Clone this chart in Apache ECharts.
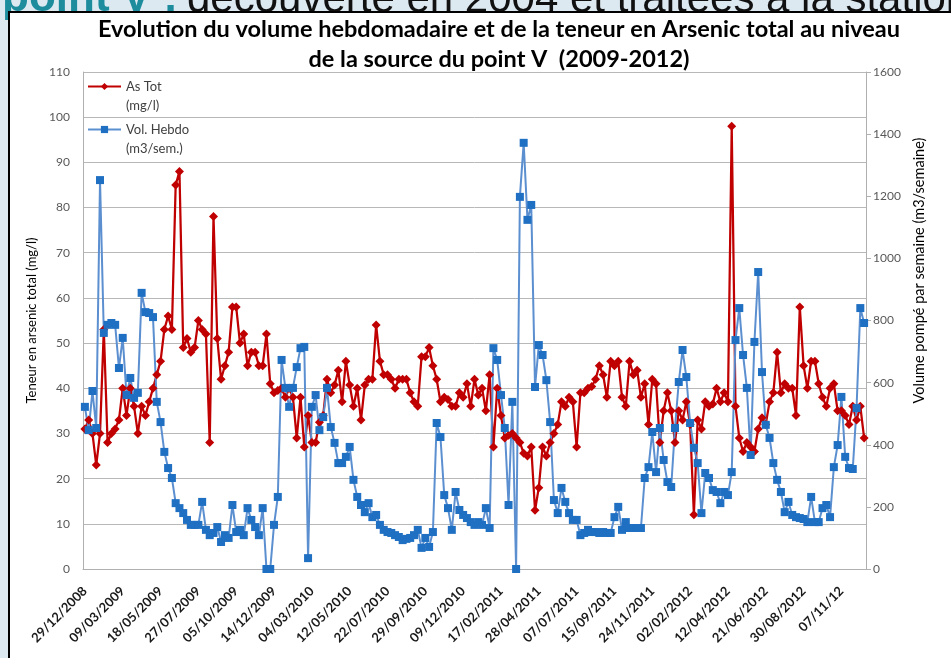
<!DOCTYPE html>
<html>
<head>
<meta charset="utf-8">
<script src="https://cdn.jsdelivr.net/npm/echarts@6/dist/echarts.min.js"></script>
<style>
html, body { margin: 0; padding: 0; background: #dde9f1; }
#chart { width: 951px; height: 658px; }
</style>
</head>
<body>
<div id="chart"></div>
<script>
// étiquettes de l'axe des dates (une toutes les 10 semaines)
const tickLabels = ['29/12/2008', '09/03/2009', '18/05/2009', '27/07/2009', '05/10/2009', '14/12/2009',
  '04/03/2010', '12/05/2010', '22/07/2010', '29/09/2010', '09/12/2010', '17/02/2011', '28/04/2011',
  '07/07/2011', '15/09/2011', '24/11/2011', '02/02/2012', '12/04/2012', '21/06/2012', '30/08/2012', '07/11/12'];

// teneur en As total (mg/l)
const asTot = [
  31, 33, 30, 23, 30, 53, 28, 30, 31, 33, 40, 34, 40, 36, 30, 36, 34, 37, 40, 43, 46, 53, 56, 53, 85, 88, 49, 51, 48, 49, 55, 53, 52, 28,
  78, 51, 42, 45, 48, 58, 58, 50, 52, 45, 48, 48, 45, 45, 52, 41, 39, 39.5, 40, 38, 40, 38, 29, 38, 27, 34, 28, 28, 32.5, 34, 42, 39, 40.7, 44,
  37, 46, 40.7, 36, 40, 33, 40.7, 42, 42, 54, 46, 43, 43, 42, 40, 42, 42, 42, 39, 37, 36, 47, 47, 49, 45, 42, 37, 38, 37.5, 36, 36, 39, 38, 41, 36, 42,
  38.5, 40, 35, 43, 27, 40, 34, 29, 29.6, 30, 29, 28, 25.6, 25, 27, 13, 18, 27, 25, 28, 30, 32, 37, 36, 38, 37, 27, 39, 39, 40, 40.4, 42, 45, 43,
  38, 46, 45, 46, 38, 36, 46, 43, 44, 38, 41, 32, 42, 41, 28, 35, 39, 35, 28, 35, 33, 37, 32, 12, 33, 31, 37, 36, 36.5, 40, 37, 39, 37, 98,
  36, 29, 26, 28, 27, 26, 31, 33.5, 32, 37, 39, 48, 39, 41, 40, 40, 34, 58, 45, 40, 46, 46, 41, 38, 36, 40, 41, 35, 35, 34, 32, 36, 33, 36, 29
];

// volume hebdomadaire (m3/semaine)
const volHebdo = [
  522, 447, 573, 454, 1252, 760, 786, 792, 786, 647, 744, 560, 615, 551, 567, 889, 827, 824, 811, 538, 473, 377, 325, 293, 212, 196, 180, 158, 142, 142, 142, 216, 126, 109,
  116, 135, 87, 109, 100, 206, 119, 126, 109, 196, 158, 135, 109, 196, 0, 0, 142, 232, 673, 583, 522, 583, 650, 711, 715, 35, 522, 560, 447, 489, 583, 457, 406, 341,
  341, 361, 393, 287, 232, 206, 183, 212, 167, 174, 142, 126, 119, 116, 109, 103, 93, 97, 100, 109, 126, 68, 100, 71, 119, 470, 425, 238, 196, 126, 248, 190, 174, 164, 151, 142,
  151, 142, 196, 132, 711, 673, 560, 454, 206, 538, 0, 1198, 1372, 1124, 1172, 586, 721, 689, 608, 473, 222, 180, 261, 216, 180, 158, 158, 109, 116, 126, 119, 119, 116, 119,
  116, 116, 167, 200, 126, 151, 132, 132, 132, 132, 293, 328, 441, 312, 454, 351, 280, 264, 454, 602, 705, 618, 470, 390, 341, 180, 309, 293, 254, 248, 212, 248, 238, 312,
  737, 840, 689, 583, 367, 731, 956, 634, 464, 422, 341, 287, 248, 183, 216, 174, 167, 164, 161, 151, 232, 151, 151, 196, 206, 167, 328, 399, 554, 361, 325, 322, 518, 840, 792
];

const categories = asTot.map((v, i) => i);
// ligne vide en tête pour caler la 1re ligne du texte sur le symbole
const legendText = { 'As Tot': '\nAs Tot\n(mg/l)', 'Vol. Hebdo': '\nVol. Hebdo\n(m3/sem.)' };

const myChart = echarts.init(document.getElementById('chart'));
const option = {
  animation: false,
  textStyle: { fontFamily: 'Lato' },
  // fond de la diapo : titre coupé + cadre blanc du graphique
  graphic: [
    {
      type: 'text', x: 178, y: 21, z: -3,
      style: { text: 'point V :', textAlign: 'right', textVerticalAlign: 'bottom', fill: '#1d8d9e', font: 'bold 44px "Liberation Sans"' }
    },
    {
      type: 'text', x: 187, y: 21, z: -3,
      style: { text: 'découverte en 2004 et traitées à la station', textAlign: 'left', textVerticalAlign: 'bottom', fill: '#111', font: '42px "Liberation Sans"' }
    },
    {
      type: 'rect', z: -2,
      shape: { x: 9, y: 12, width: 970, height: 700 },
      style: { fill: '#fff', stroke: '#000', lineWidth: 2 }
    }
  ],
  title: {
    text: 'Evolution du volume hebdomadaire et de la teneur en Arsenic total au niveau\nde la source du point V  (2009-2012)',
    left: 494,
    top: 9,
    textAlign: 'center',
    textStyle: { fontSize: 23.5, fontWeight: 'bold', lineHeight: 30, color: '#000', fontFamily: 'Lato' }
  },
  legend: {
    orient: 'vertical',
    left: 87,
    top: 58,
    padding: 0,
    itemWidth: 33,
    itemHeight: 9,
    itemGap: -14,
    data: ['As Tot', 'Vol. Hebdo'],
    formatter: name => legendText[name],
    textStyle: { fontSize: 13, color: '#404040', lineHeight: 19 }
  },
  grid: { left: 83, right: 85, top: 72, bottom: 89 },
  xAxis: {
    type: 'category',
    data: categories,
    boundaryGap: true,
    axisLine: { show: true, lineStyle: { color: '#b0b0b0', width: 1 } },
    axisTick: { show: false },
    axisLabel: {
      interval: 9,
      rotate: 45,
      margin: 20,
      fontSize: 13,
      fontWeight: 'bold',
      color: '#1a1a1a',
      formatter: (v, i) => tickLabels[Math.round(i / 10)] || ''
    }
  },
  yAxis: [
    {
      type: 'value',
      min: 0, max: 110, interval: 10,
      position: 'left',
      name: 'Teneur en arsenic total (mg/l)',
      nameLocation: 'middle',
      nameRotate: 90,
      nameGap: 33,
      nameTextStyle: { fontSize: 13, color: '#000' },
      axisLine: { show: true, lineStyle: { color: '#b0b0b0' } },
      axisTick: { show: false },
      axisLabel: { color: '#595959', fontSize: 12, margin: 13 },
      splitLine: { lineStyle: { color: '#b8b8b8', width: 1 } }
    },
    {
      type: 'value',
      min: 0, max: 1600, interval: 200,
      position: 'right',
      name: 'Volume pompé par semaine (m3/semaine)',
      nameLocation: 'middle',
      nameRotate: 90,
      nameGap: 46,
      nameTextStyle: { fontSize: 14.5, color: '#000', padding: [0, 0, 0, 100] },
      axisLine: { show: true, lineStyle: { color: '#b0b0b0' } },
      axisTick: { show: true, length: 5, lineStyle: { color: '#b0b0b0' } },
      axisLabel: { color: '#595959', fontSize: 12, margin: 7, formatter: v => String(v) },
      splitLine: { show: false }
    }
  ],
  series: [
    {
      name: 'As Tot',
      type: 'line',
      yAxisIndex: 0,
      data: asTot,
      symbol: 'diamond',
      symbolSize: 9,
      showAllSymbol: true,
      itemStyle: { color: '#c00000' },
      lineStyle: { color: '#c00000', width: 2.25 }
    },
    {
      name: 'Vol. Hebdo',
      type: 'line',
      yAxisIndex: 1,
      data: volHebdo,
      symbol: 'rect',
      symbolSize: 8,
      showAllSymbol: true,
      itemStyle: { color: '#1f6fc2' },
      lineStyle: { color: '#5b8fd0', width: 2 }
    }
  ]
};
myChart.setOption(option);
</script>
</body>
</html>
